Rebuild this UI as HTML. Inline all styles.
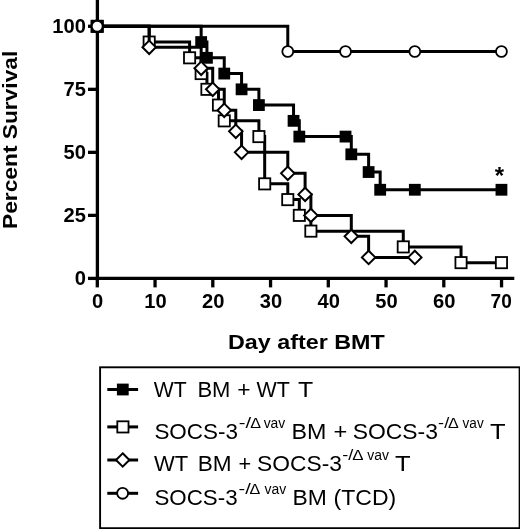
<!DOCTYPE html><html><head><meta charset="utf-8"><title>Survival</title><style>html,body{margin:0;padding:0;background:#fff}svg{display:block;filter:blur(0.45px)}text{font-family:"Liberation Sans",sans-serif;fill:#000}</style></head><body>
<svg width="520" height="529" viewBox="0 0 520 529">
<rect width="520" height="529" fill="#fff"/>
<g stroke="#000" stroke-width="3.3" fill="none">
<line x1="97.4" y1="0" x2="97.4" y2="280.04999999999995"/>
<line x1="95.75" y1="278.4" x2="514.3" y2="278.4"/>
<line x1="88" y1="278.4" x2="97.4" y2="278.4"/>
<line x1="88" y1="215.38" x2="97.4" y2="215.38"/>
<line x1="88" y1="152.35" x2="97.4" y2="152.35"/>
<line x1="88" y1="89.33" x2="97.4" y2="89.33"/>
<line x1="88" y1="26.3" x2="97.4" y2="26.3"/>
<line x1="97.3" y1="278.4" x2="97.3" y2="287.4"/>
<line x1="155.04999999999998" y1="278.4" x2="155.04999999999998" y2="287.4"/>
<line x1="212.79999999999998" y1="278.4" x2="212.79999999999998" y2="287.4"/>
<line x1="270.55" y1="278.4" x2="270.55" y2="287.4"/>
<line x1="328.3" y1="278.4" x2="328.3" y2="287.4"/>
<line x1="386.05" y1="278.4" x2="386.05" y2="287.4"/>
<line x1="443.8" y1="278.4" x2="443.8" y2="287.4"/>
<line x1="501.55" y1="278.4" x2="501.55" y2="287.4"/>
</g>
<g font-weight="bold" font-size="20.8">
<text x="85.9" y="285.40" text-anchor="end" textLength="11.20" lengthAdjust="spacingAndGlyphs">0</text>
<text x="85.9" y="222.38" text-anchor="end" textLength="22.40" lengthAdjust="spacingAndGlyphs">25</text>
<text x="85.9" y="159.35" text-anchor="end" textLength="22.40" lengthAdjust="spacingAndGlyphs">50</text>
<text x="85.9" y="96.33" text-anchor="end" textLength="22.40" lengthAdjust="spacingAndGlyphs">75</text>
<text x="85.9" y="33.30" text-anchor="end" textLength="33.60" lengthAdjust="spacingAndGlyphs">100</text>
<text x="97.70" y="308.4" text-anchor="middle" textLength="11.20" lengthAdjust="spacingAndGlyphs">0</text>
<text x="155.45" y="308.4" text-anchor="middle" textLength="22.40" lengthAdjust="spacingAndGlyphs">10</text>
<text x="213.20" y="308.4" text-anchor="middle" textLength="22.40" lengthAdjust="spacingAndGlyphs">20</text>
<text x="270.95" y="308.4" text-anchor="middle" textLength="22.40" lengthAdjust="spacingAndGlyphs">30</text>
<text x="328.70" y="308.4" text-anchor="middle" textLength="22.40" lengthAdjust="spacingAndGlyphs">40</text>
<text x="386.45" y="308.4" text-anchor="middle" textLength="22.40" lengthAdjust="spacingAndGlyphs">50</text>
<text x="444.20" y="308.4" text-anchor="middle" textLength="22.40" lengthAdjust="spacingAndGlyphs">60</text>
<text x="501.15" y="308.4" text-anchor="middle" textLength="21.20" lengthAdjust="spacingAndGlyphs">70</text>
</g>
<text x="228" y="349.2" font-weight="bold" font-size="20.5" textLength="156.8" lengthAdjust="spacingAndGlyphs">Day after BMT</text>
<text transform="translate(17.1 229) rotate(-90)" font-weight="bold" font-size="21" textLength="178.3" lengthAdjust="spacingAndGlyphs">Percent Survival</text>
<text x="499.3" y="183.5" font-weight="bold" font-size="24" text-anchor="middle">*</text>
<path d="M97.2 26.3 H201.15 V42.06 H206.93 V57.81 H224.25 V73.57 H241.57 V89.33 H258.9 V105.08 H293.55 V120.84 H299.32 V136.59 H345.53 V136.59 H351.3 V154.32 H368.62 V172.04 H380.18 V189.76 H414.82 V189.76 H501.45 V189.76" fill="none" stroke="#000" stroke-width="3.0" stroke-linejoin="miter" stroke-linecap="butt"/>
<rect x="91.30" y="20.40" width="11.8" height="11.8" fill="#000"/>
<rect x="195.25" y="36.16" width="11.8" height="11.8" fill="#000"/>
<rect x="201.03" y="51.91" width="11.8" height="11.8" fill="#000"/>
<rect x="218.35" y="67.67" width="11.8" height="11.8" fill="#000"/>
<rect x="235.67" y="83.43" width="11.8" height="11.8" fill="#000"/>
<rect x="253.00" y="99.18" width="11.8" height="11.8" fill="#000"/>
<rect x="287.65" y="114.94" width="11.8" height="11.8" fill="#000"/>
<rect x="293.42" y="130.69" width="11.8" height="11.8" fill="#000"/>
<rect x="339.63" y="130.69" width="11.8" height="11.8" fill="#000"/>
<rect x="345.40" y="148.42" width="11.8" height="11.8" fill="#000"/>
<rect x="362.72" y="166.14" width="11.8" height="11.8" fill="#000"/>
<rect x="374.28" y="183.86" width="11.8" height="11.8" fill="#000"/>
<rect x="408.92" y="183.86" width="11.8" height="11.8" fill="#000"/>
<rect x="495.55" y="183.86" width="11.8" height="11.8" fill="#000"/>
<path d="M97.2 26.3 H149.18 V42.06 H189.6 V57.81 H201.15 V73.57 H206.93 V89.33 H218.48 V105.08 H224.25 V120.84 H258.9 V136.59 H264.68 V183.86 H287.78 V199.62 H299.32 V215.38 H310.88 V231.13 H403.28 V246.89 H461.03 V262.64 H501.45 V262.64" fill="none" stroke="#000" stroke-width="3.0" stroke-linejoin="miter" stroke-linecap="butt"/>
<rect x="91.60" y="20.70" width="11.2" height="11.2" fill="#fff" stroke="#000" stroke-width="1.8"/>
<rect x="143.58" y="36.46" width="11.2" height="11.2" fill="#fff" stroke="#000" stroke-width="1.8"/>
<rect x="184.00" y="52.21" width="11.2" height="11.2" fill="#fff" stroke="#000" stroke-width="1.8"/>
<rect x="195.55" y="67.97" width="11.2" height="11.2" fill="#fff" stroke="#000" stroke-width="1.8"/>
<rect x="201.33" y="83.73" width="11.2" height="11.2" fill="#fff" stroke="#000" stroke-width="1.8"/>
<rect x="212.88" y="99.48" width="11.2" height="11.2" fill="#fff" stroke="#000" stroke-width="1.8"/>
<rect x="218.65" y="115.24" width="11.2" height="11.2" fill="#fff" stroke="#000" stroke-width="1.8"/>
<rect x="253.30" y="130.99" width="11.2" height="11.2" fill="#fff" stroke="#000" stroke-width="1.8"/>
<rect x="259.08" y="178.26" width="11.2" height="11.2" fill="#fff" stroke="#000" stroke-width="1.8"/>
<rect x="282.18" y="194.02" width="11.2" height="11.2" fill="#fff" stroke="#000" stroke-width="1.8"/>
<rect x="293.72" y="209.78" width="11.2" height="11.2" fill="#fff" stroke="#000" stroke-width="1.8"/>
<rect x="305.28" y="225.53" width="11.2" height="11.2" fill="#fff" stroke="#000" stroke-width="1.8"/>
<rect x="397.68" y="241.29" width="11.2" height="11.2" fill="#fff" stroke="#000" stroke-width="1.8"/>
<rect x="455.43" y="257.04" width="11.2" height="11.2" fill="#fff" stroke="#000" stroke-width="1.8"/>
<rect x="495.85" y="257.04" width="11.2" height="11.2" fill="#fff" stroke="#000" stroke-width="1.8"/>
<path d="M97.2 26.3 H149.18 V47.3 H201.15 V68.33 H212.7 V89.33 H224.25 V110.32 H235.8 V131.35 H241.57 V152.35 H287.78 V173.35 H305.1 V194.38 H310.88 V215.38 H351.3 V236.37 H368.62 V257.4 H414.82 V257.4" fill="none" stroke="#000" stroke-width="3.0" stroke-linejoin="miter" stroke-linecap="butt"/>
<path d="M97.20 19.60 L103.90 26.30 L97.20 33.00 L90.50 26.30Z" fill="#fff" stroke="#000" stroke-width="2.0"/>
<path d="M149.18 40.60 L155.88 47.30 L149.18 54.00 L142.48 47.30Z" fill="#fff" stroke="#000" stroke-width="2.0"/>
<path d="M201.15 61.63 L207.85 68.33 L201.15 75.03 L194.45 68.33Z" fill="#fff" stroke="#000" stroke-width="2.0"/>
<path d="M212.70 82.63 L219.40 89.33 L212.70 96.03 L206.00 89.33Z" fill="#fff" stroke="#000" stroke-width="2.0"/>
<path d="M224.25 103.62 L230.95 110.32 L224.25 117.02 L217.55 110.32Z" fill="#fff" stroke="#000" stroke-width="2.0"/>
<path d="M235.80 124.65 L242.50 131.35 L235.80 138.05 L229.10 131.35Z" fill="#fff" stroke="#000" stroke-width="2.0"/>
<path d="M241.57 145.65 L248.27 152.35 L241.57 159.05 L234.87 152.35Z" fill="#fff" stroke="#000" stroke-width="2.0"/>
<path d="M287.78 166.65 L294.48 173.35 L287.78 180.05 L281.08 173.35Z" fill="#fff" stroke="#000" stroke-width="2.0"/>
<path d="M305.10 187.68 L311.80 194.38 L305.10 201.08 L298.40 194.38Z" fill="#fff" stroke="#000" stroke-width="2.0"/>
<path d="M310.88 208.68 L317.58 215.38 L310.88 222.08 L304.18 215.38Z" fill="#fff" stroke="#000" stroke-width="2.0"/>
<path d="M351.30 229.67 L358.00 236.37 L351.30 243.07 L344.60 236.37Z" fill="#fff" stroke="#000" stroke-width="2.0"/>
<path d="M368.62 250.70 L375.32 257.40 L368.62 264.10 L361.92 257.40Z" fill="#fff" stroke="#000" stroke-width="2.0"/>
<path d="M414.82 250.70 L421.52 257.40 L414.82 264.10 L408.12 257.40Z" fill="#fff" stroke="#000" stroke-width="2.0"/>
<rect x="90.75" y="19.95" width="12.8" height="12.8" fill="#000"/>
<path d="M97.2 26.3 H287.78 V51.51 H345.53 V51.51 H414.82 V51.51 H501.45 V51.51" fill="none" stroke="#000" stroke-width="3.0" stroke-linejoin="miter" stroke-linecap="butt"/>
<circle cx="97.20" cy="26.30" r="5.45" fill="#fff" stroke="#000" stroke-width="1.8"/>
<circle cx="287.78" cy="51.51" r="5.45" fill="#fff" stroke="#000" stroke-width="1.8"/>
<circle cx="345.53" cy="51.51" r="5.45" fill="#fff" stroke="#000" stroke-width="1.8"/>
<circle cx="414.82" cy="51.51" r="5.45" fill="#fff" stroke="#000" stroke-width="1.8"/>
<circle cx="501.45" cy="51.51" r="5.45" fill="#fff" stroke="#000" stroke-width="1.8"/>
<rect x="100.1" y="367.3" width="419.5" height="160.9" fill="#fff" stroke="#000" stroke-width="1.9"/>
<line x1="107.3" y1="389.5" x2="138.1" y2="389.5" stroke="#000" stroke-width="3"/>
<line x1="107.3" y1="426.9" x2="138.1" y2="426.9" stroke="#000" stroke-width="3"/>
<line x1="107.3" y1="460" x2="138.1" y2="460" stroke="#000" stroke-width="3"/>
<line x1="107.3" y1="493.3" x2="138.1" y2="493.3" stroke="#000" stroke-width="3"/>
<rect x="116.90" y="383.60" width="11.8" height="11.8" fill="#000"/>
<rect x="117.30" y="421.30" width="11.2" height="11.2" fill="#fff" stroke="#000" stroke-width="1.8"/>
<path d="M122.70 453.30 L129.40 460.00 L122.70 466.70 L116.00 460.00Z" fill="#fff" stroke="#000" stroke-width="2.0"/>
<circle cx="122.60" cy="493.30" r="5.45" fill="#fff" stroke="#000" stroke-width="1.8"/>
<text x="153.70" y="396.70" font-size="22" textLength="32.90" lengthAdjust="spacingAndGlyphs">WT</text>
<text x="197.40" y="396.70" font-size="22" textLength="33.00" lengthAdjust="spacingAndGlyphs">BM</text>
<text x="237.20" y="396.70" font-size="22" textLength="13.30" lengthAdjust="spacingAndGlyphs">+</text>
<text x="256.60" y="396.70" font-size="22" textLength="33.30" lengthAdjust="spacingAndGlyphs">WT</text>
<text x="298.10" y="396.70" font-size="22" textLength="15.20" lengthAdjust="spacingAndGlyphs">T</text>
<text x="154.40" y="438.50" font-size="22" textLength="83.60" lengthAdjust="spacingAndGlyphs">SOCS-3</text>
<text x="238.70" y="427.90" font-size="14" textLength="12.40" lengthAdjust="spacingAndGlyphs">-/</text>
<text x="250.22" y="427.90" font-size="15.5" textLength="10.75" lengthAdjust="spacingAndGlyphs">&#916;</text>
<text x="263.70" y="427.90" font-size="14" textLength="21.60" lengthAdjust="spacingAndGlyphs">vav</text>
<text x="291.40" y="438.50" font-size="22" textLength="34.90" lengthAdjust="spacingAndGlyphs">BM</text>
<text x="333.50" y="438.50" font-size="22" textLength="13.80" lengthAdjust="spacingAndGlyphs">+</text>
<text x="352.70" y="438.50" font-size="22" textLength="85.30" lengthAdjust="spacingAndGlyphs">SOCS-3</text>
<text x="438.10" y="427.90" font-size="14" textLength="11.10" lengthAdjust="spacingAndGlyphs">-/</text>
<text x="448.03" y="427.90" font-size="15.5" textLength="10.75" lengthAdjust="spacingAndGlyphs">&#916;</text>
<text x="462.60" y="427.90" font-size="14" textLength="21.10" lengthAdjust="spacingAndGlyphs">vav</text>
<text x="490.10" y="438.50" font-size="22" textLength="15.60" lengthAdjust="spacingAndGlyphs">T</text>
<text x="153.90" y="470.90" font-size="22" textLength="34.20" lengthAdjust="spacingAndGlyphs">WT</text>
<text x="197.70" y="470.90" font-size="22" textLength="33.90" lengthAdjust="spacingAndGlyphs">BM</text>
<text x="238.40" y="470.90" font-size="22" textLength="12.70" lengthAdjust="spacingAndGlyphs">+</text>
<text x="257.10" y="470.90" font-size="22" textLength="84.80" lengthAdjust="spacingAndGlyphs">SOCS-3</text>
<text x="342.30" y="460.30" font-size="14" textLength="11.10" lengthAdjust="spacingAndGlyphs">-/</text>
<text x="352.23" y="460.30" font-size="15.5" textLength="11.25" lengthAdjust="spacingAndGlyphs">&#916;</text>
<text x="367.30" y="460.30" font-size="14" textLength="21.70" lengthAdjust="spacingAndGlyphs">vav</text>
<text x="394.90" y="470.90" font-size="22" textLength="15.60" lengthAdjust="spacingAndGlyphs">T</text>
<text x="154.40" y="504.80" font-size="22" textLength="83.20" lengthAdjust="spacingAndGlyphs">SOCS-3</text>
<text x="238.50" y="494.20" font-size="14" textLength="12.20" lengthAdjust="spacingAndGlyphs">-/</text>
<text x="249.62" y="494.20" font-size="15.5" textLength="10.75" lengthAdjust="spacingAndGlyphs">&#916;</text>
<text x="264.60" y="494.20" font-size="14" textLength="21.70" lengthAdjust="spacingAndGlyphs">vav</text>
<text x="292.60" y="504.80" font-size="22" textLength="34.30" lengthAdjust="spacingAndGlyphs">BM</text>
<text x="333.50" y="504.80" font-size="22" textLength="62.70" lengthAdjust="spacingAndGlyphs">(TCD)</text>
</svg></body></html>
